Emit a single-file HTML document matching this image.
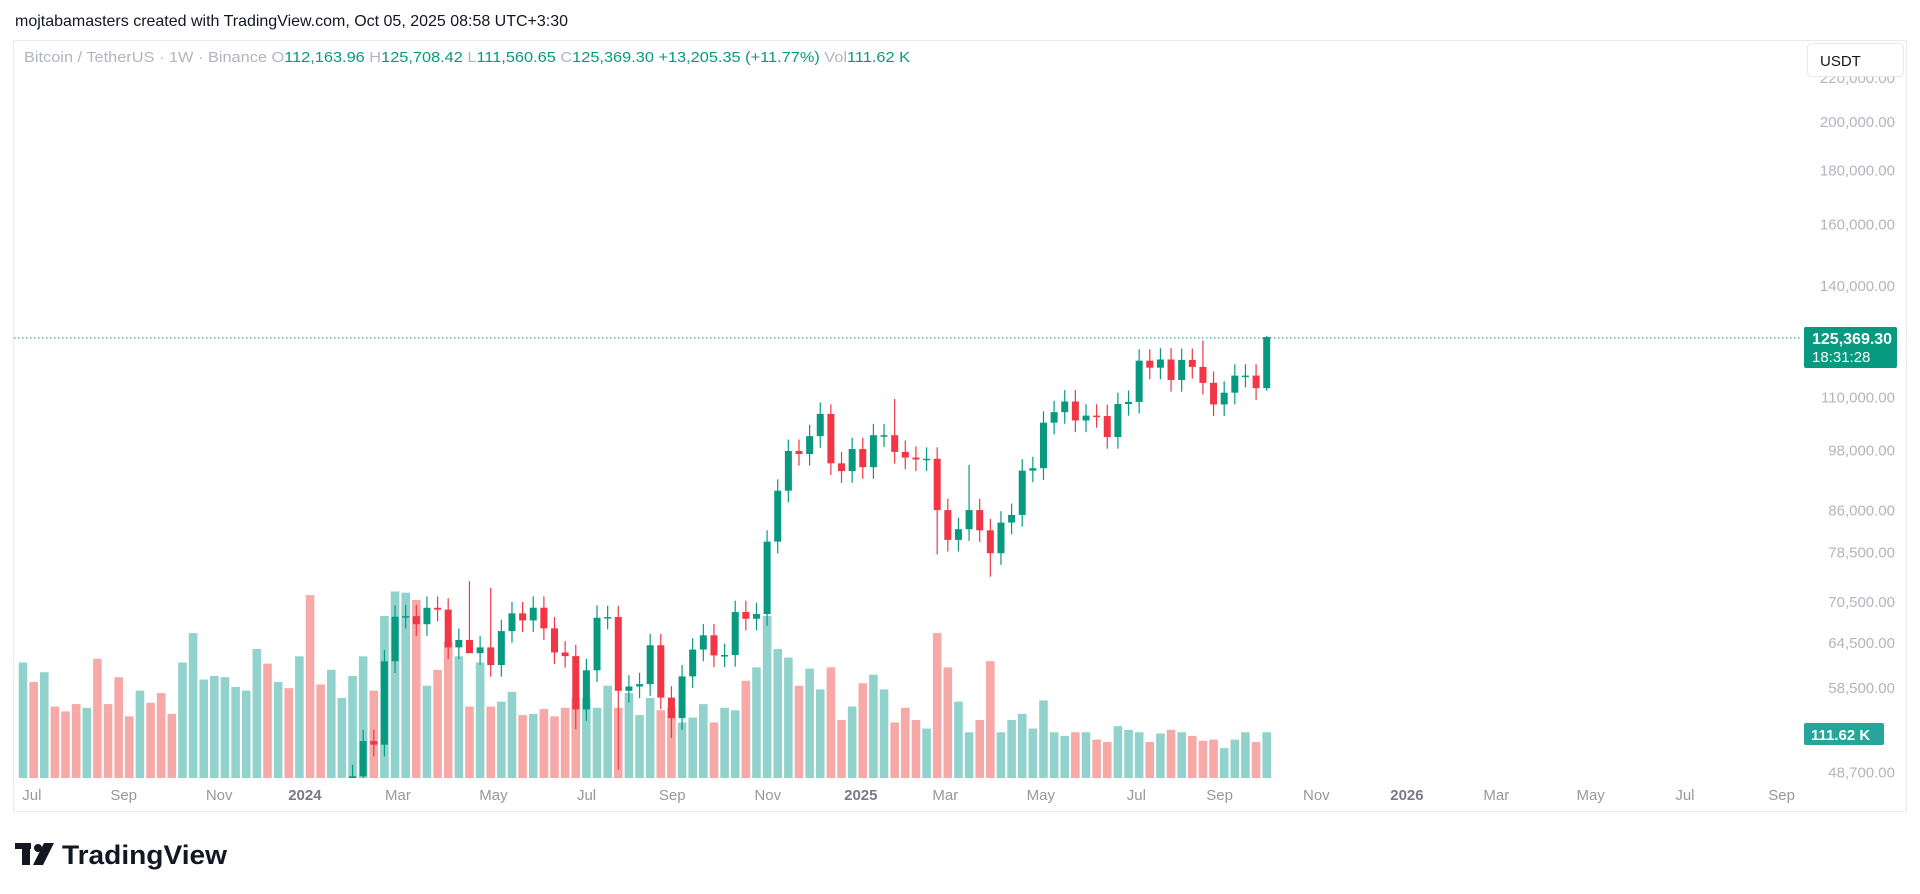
<!DOCTYPE html>
<html><head><meta charset="utf-8">
<style>
html,body{margin:0;padding:0;background:#fff;width:1920px;height:894px;overflow:hidden}
svg{display:block}
</style></head>
<body>
<svg id="c" width="1920" height="894" xmlns="http://www.w3.org/2000/svg" font-family="'Liberation Sans', sans-serif">
<rect x="0" y="0" width="1920" height="894" fill="#fff"/>
<text x="15" y="26" font-size="16" fill="#131722" textLength="553" lengthAdjust="spacingAndGlyphs">mojtabamasters created with TradingView.com, Oct 05, 2025 08:58 UTC+3:30</text>
<rect x="13.5" y="40.5" width="1893" height="771" fill="none" stroke="#e8eaef"/>
<g id="vol"></g>
<g id="cnd"></g>
<line x1="14" y1="338" x2="1800" y2="338" stroke="#089981" stroke-width="1" stroke-dasharray="1.5,2.5"/>
<g id="plab" font-size="15" fill="#b2b5be" text-anchor="end"></g>
<rect x="1807.5" y="43.5" width="96" height="33" rx="4" fill="#fff" stroke="#e6e8ee"/>
<text x="1820" y="66" font-size="15" fill="#131722">USDT</text>
<rect x="1804" y="327" width="93" height="41" rx="2" fill="#089981"/>
<text x="1812" y="344" font-size="16" fill="#fff" font-weight="bold">125,369.30</text>
<text x="1812" y="362" font-size="15" fill="#fff">18:31:28</text>
<rect x="1804" y="723" width="80" height="22" rx="2" fill="#26a69a"/>
<text x="1811" y="740" font-size="15" fill="#fff" font-weight="bold">111.62 K</text>
<g id="tlab" font-size="15" fill="#9598a1" text-anchor="middle"></g>
<text x="24" y="62" font-size="15" textLength="886" lengthAdjust="spacingAndGlyphs"><tspan fill="#b2b5be">Bitcoin / TetherUS · 1W · Binance  O</tspan><tspan fill="#089981">112,163.96  </tspan><tspan fill="#b2b5be">H</tspan><tspan fill="#089981">125,708.42  </tspan><tspan fill="#b2b5be">L</tspan><tspan fill="#089981">111,560.65  </tspan><tspan fill="#b2b5be">C</tspan><tspan fill="#089981">125,369.30  +13,205.35 (+11.77%)  </tspan><tspan fill="#b2b5be">Vol</tspan><tspan fill="#089981">111.62 K</tspan></text>
<g fill="#131722">
<rect x="15" y="843" width="16" height="6"/>
<rect x="22" y="843" width="8" height="22"/>
<circle cx="38" cy="848" r="4"/>
<polygon points="44,843 54,843 43,865 33,865"/>
<text x="62" y="864" font-size="27" font-weight="bold" textLength="165" lengthAdjust="spacingAndGlyphs">TradingView</text>
</g>
</svg>
<script>
const NS="http://www.w3.org/2000/svg";
function el(p,t,a){const e=document.createElementNS(NS,t);for(const k in a)e.setAttribute(k,a[k]);p.appendChild(e);return e;}
const S=1.2245;
function py(p){return 122+(12.206-Math.log(p))*460.5;}
function cx(i){return 23+i*10.63;}
const pl=document.getElementById('plab');
[[220000,"220,000.00"],[200000,"200,000.00"],[180000,"180,000.00"],[160000,"160,000.00"],[140000,"140,000.00"],[110000,"110,000.00"],[98000,"98,000.00"],[86000,"86,000.00"],[78500,"78,500.00"],[70500,"70,500.00"],[64500,"64,500.00"],[58500,"58,500.00"],[48700,"48,700.00"]].forEach(([p,t])=>{el(pl,'text',{x:1895,y:py(p)+5}).textContent=t;});
const tl=document.getElementById('tlab');
[[26,"Jul"],[101,"Sep"],[179,"Nov"],[249,"2024",1],[325,"Mar"],[403,"May"],[479,"Jul"],[549,"Sep"],[627,"Nov"],[703,"2025",1],[772,"Mar"],[850,"May"],[928,"Jul"],[996,"Sep"],[1075,"Nov"],[1149,"2026",1],[1222,"Mar"],[1299,"May"],[1376,"Jul"],[1455,"Sep"]].forEach(([x,t,b])=>{const e=el(tl,'text',{x:x*S,y:800});if(b){e.setAttribute('font-weight','bold');e.setAttribute('fill','#787b86');}e.textContent=t;});
const closes=[48300,52140,51730,62000,68300,68390,67200,69640,69360,63900,64940,63100,63900,61500,66200,68800,67750,69650,66600,63200,62700,55850,60800,68150,68250,58150,58700,59000,64200,57300,54800,60000,63600,65600,62800,62850,69000,68000,68700,80400,89800,97900,97250,101100,106100,95300,93700,98300,94500,101300,101300,97700,96500,96100,96250,86100,80700,82600,86100,82400,78400,83800,85200,93800,94300,104100,106500,109000,104600,105700,105600,100900,108400,108900,119100,117300,119400,114200,119300,117500,113500,108300,111100,115300,115300,112200,125369];
const spec={42:[73780,64500],56:[null,49000],52:[null,53500],82:[109600,null],76:[108300,null],86:[null,78200],91:[null,74500],89:[95000,null],111:[124400,null],117:[125708,111560],61:[null,52500],44:[72700,null],54:[70000,null]};
const dirs=[];
let o=42580;
const cg=document.getElementById('cnd');
const clip=el(document.getElementById('c'),'clipPath',{id:'pc'});
el(clip,'rect',{x:13,y:80,width:1782,height:698});
cg.setAttribute('clip-path','url(#pc)');
closes.forEach((c,k)=>{
  const i=31+k;
  let h=Math.max(o,c)*1.025,l=Math.min(o,c)*0.975;
  if(spec[i]){if(spec[i][0])h=spec[i][0];if(spec[i][1])l=spec[i][1];}
  const up=c>=o;dirs[i]=up;
  const col=up?'#089981':'#f23645';
  const x=cx(i);
  el(cg,'line',{x1:x,x2:x,y1:py(h),y2:py(l),stroke:col,'stroke-width':1.2});
  const y1=py(Math.max(o,c)),y2=py(Math.min(o,c));
  el(cg,'rect',{x:x-3.5,y:y1,width:7,height:Math.max(1.5,y2-y1),fill:col});
  o=c;
});
const vt=[541,557,549,577,581,575,578,538,575,553,585,564,574,566,583,541,517,555,552,553,561,564,530,542,557,562,536,486,559,547,570,552,536,564,503,483,484,490,560,547,524,536,577,541,577,573,565,584,583,579,585,578,
570,570,578,560,578,566,584,570,580,578,590,586,
575,590,578,580,556,545,
503,530,537,560,546,563,
545,588,577,558,551,563,590,
578,588,595,517,545,573,
598,588,540,598,588,583,595,
572,598,601,598,598,604,606,593,
596,598,606,599,596,598,601,
605,604,611,604,598,606,598];
const vcs=[1,0,1,0,0,0,1,0,0,0,0,1,0,0,0,1,1,1,1,1,1,1,1,0,1,0,1,0,0,1,1].map(v=>!!v);
const vg=document.getElementById('vol');
for(let i=0;i<118;i++){
  const top=vt[i]*S;
  let up=dirs[i]!==undefined?dirs[i]:(vcs[i]!==undefined?vcs[i]:true);
  el(vg,'rect',{x:cx(i)-4.3,y:top,width:8.6,height:778-top,fill:up?'#92d2cc':'#f7a9a7'});
}
</script>
</body></html>
